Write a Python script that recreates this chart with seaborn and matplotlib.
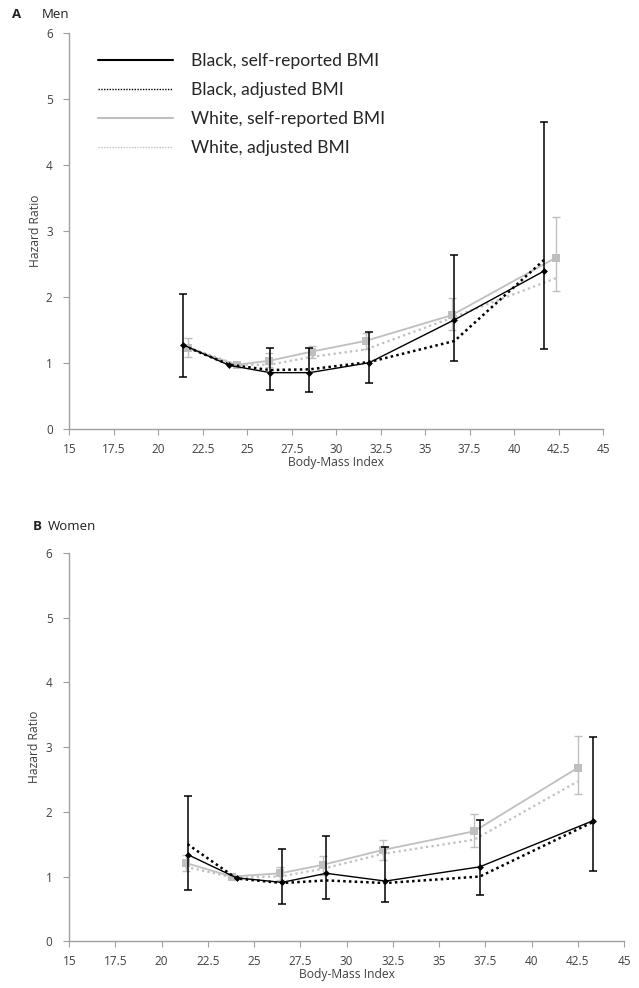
import numpy as np
import pandas as pd
import matplotlib
matplotlib.use("Agg")
import matplotlib.pyplot as plt
from matplotlib.lines import Line2D
import seaborn as sns

sns.set_theme(style="white")
plt.rcParams['font.family'] = ['Open Sans', 'DejaVu Sans']

# ---------------- data: Men ----------------
men_black_x = [21.4, 24.0, 26.3, 28.5, 31.85, 36.65, 41.7]
men_black_sr = [1.28, 0.97, 0.86, 0.86, 1.01, 1.66, 2.40]
men_black_lo = [0.80, None, 0.59, 0.57, 0.70, 1.04, 1.22]
men_black_hi = [2.05, None, 1.24, 1.24, 1.47, 2.64, 4.66]
men_black_adj = [1.27, 0.98, 0.90, 0.91, 1.02, 1.34, 2.57]

men_white_x = [21.65, 24.4, 26.25, 28.65, 31.65, 36.5, 42.35]
men_white_sr = [1.23, 0.98, 1.04, 1.18, 1.34, 1.73, 2.60]
men_white_lo = [1.10, None, 0.95, 1.08, 1.22, 1.51, 2.10]
men_white_hi = [1.38, None, 1.15, 1.27, 1.46, 1.99, 3.21]
men_white_adj = [1.25, 0.98, 0.98, 1.10, 1.21, 1.69, 2.29]

# ---------------- data: Women ----------------
wom_black_x = [21.4, 24.05, 26.5, 28.9, 32.1, 37.2, 43.3]
wom_black_sr = [1.34, 0.98, 0.91, 1.05, 0.93, 1.15, 1.86]
wom_black_lo = [0.79, None, 0.57, 0.66, 0.60, 0.72, 1.09]
wom_black_hi = [2.25, None, 1.43, 1.63, 1.45, 1.87, 3.16]
wom_black_adj = [1.50, 0.97, 0.90, 0.94, 0.90, 1.00, 1.84]

wom_white_x = [21.3, 23.8, 26.4, 28.7, 31.95, 36.9, 42.5]
wom_white_sr = [1.21, 1.00, 1.05, 1.18, 1.41, 1.70, 2.68]
wom_white_lo = [1.08, None, 0.95, 1.03, 1.26, 1.46, 2.28]
wom_white_hi = [1.33, None, 1.15, 1.32, 1.57, 1.97, 3.17]
wom_white_adj = [1.15, 0.99, 1.00, 1.12, 1.35, 1.57, 2.47]

x_ticks = [15, 17.5, 20, 22.5, 25, 27.5, 30, 32.5, 35, 37.5, 40, 42.5, 45]
x_ticklabels = ["15", "17.5", "20", "22.5", "25", "27.5", "30", "32.5", "35", "37.5", "40", "42.5", "45"]
y_ticks = [0, 1, 2, 3, 4, 5, 6]

legend_labels = ["Black, self-reported BMI", "Black, adjusted BMI",
                 "White, self-reported BMI", "White, adjusted BMI"]

BLACK = "#000000"
GREY = "#bfbfbf"
SPINE = "#a0a0a0"
TXT = "#404040"

fig = plt.figure(figsize=(6.39, 9.88), dpi=100)
ax1 = fig.add_axes([0.1085, 0.5653, 0.9437 - 0.1085, 0.9666 - 0.5653])
ax2 = fig.add_axes([0.1083, 0.0473, 0.9765 - 0.1083, 0.4403 - 0.0473])


def errbars(ax, x, y, lo, hi, color, lw):
    xs, ys, el, eh = [], [], [], []
    for xi, yi, l, h in zip(x, y, lo, hi):
        if l is None:
            continue
        xs.append(xi); ys.append(yi); el.append(yi - l); eh.append(h - yi)
    ax.errorbar(xs, ys, yerr=[el, eh], fmt='none', ecolor=color,
                elinewidth=lw, capsize=3, capthick=lw, zorder=4)


def panel(ax, bx, bsr, blo, bhi, badj, wx, wsr, wlo, whi, wadj):
    df = pd.DataFrame({"x": wx, "sr": wsr, "adj": wadj})
    sns.lineplot(data=df, x="x", y="adj", ax=ax, color=GREY, lw=1.6,
                 linestyle=(0, (1, 1.5)), sort=False, zorder=2)
    sns.lineplot(data=df, x="x", y="sr", ax=ax, color=GREY, lw=1.3,
                 marker="s", markersize=5.5, markeredgewidth=0, sort=False, zorder=3)
    errbars(ax, wx, wsr, wlo, whi, GREY, 1.0)
    dfb = pd.DataFrame({"x": bx, "sr": bsr, "adj": badj})
    sns.lineplot(data=dfb, x="x", y="adj", ax=ax, color=BLACK, lw=1.8,
                 linestyle=(0, (1, 1.3)), sort=False, zorder=3)
    sns.lineplot(data=dfb, x="x", y="sr", ax=ax, color=BLACK, lw=1.0,
                 marker="D", markersize=3.5, markeredgewidth=0, sort=False, zorder=5)
    errbars(ax, bx, bsr, blo, bhi, BLACK, 1.1)

    ax.set_xlim(15, 45)
    ax.set_ylim(0, 6)
    ax.set_xticks(x_ticks)
    ax.set_xticklabels(x_ticklabels)
    ax.set_yticks(y_ticks)
    for s in ["top", "right"]:
        ax.spines[s].set_visible(False)
    for s in ["left", "bottom"]:
        ax.spines[s].set_color(SPINE)
        ax.spines[s].set_linewidth(1.0)
    ax.tick_params(axis="both", direction="out", length=4, width=0.8,
                   color=SPINE, labelsize=8.5, labelcolor=TXT,
                   left=True, bottom=True)
    ax.tick_params(axis="x", pad=6)
    ax.tick_params(axis="y", pad=8)
    ax.set_xlabel("Body-Mass Index", fontsize=8.7, color=TXT, labelpad=0)
    ax.set_ylabel("Hazard Ratio", fontsize=8.7, color=TXT, labelpad=3)
    ax.grid(False)


panel(ax1, men_black_x, men_black_sr, men_black_lo, men_black_hi, men_black_adj,
      men_white_x, men_white_sr, men_white_lo, men_white_hi, men_white_adj)
panel(ax2, wom_black_x, wom_black_sr, wom_black_lo, wom_black_hi, wom_black_adj,
      wom_white_x, wom_white_sr, wom_white_lo, wom_white_hi, wom_white_adj)

handles = [
    Line2D([], [], color=BLACK, lw=1.5),
    Line2D([], [], color=BLACK, lw=1.0, linestyle=(0, (1, 1))),
    Line2D([], [], color=GREY, lw=1.5),
    Line2D([], [], color=GREY, lw=1.0, linestyle=(0, (1, 1))),
]
fig.legend(handles, legend_labels, loc="upper left",
           bbox_to_anchor=(98 / 639, 1 - 53 / 988), frameon=False,
           handlelength=4.3, handletextpad=1.0,
           labelspacing=0.75, borderpad=0, borderaxespad=0,
           prop={"family": ["Lato", "DejaVu Sans"], "size": 12.6})

fig.text(12 / 639, 1 - 15 / 988, "A", fontsize=9.5, fontweight="bold", color="#202020", va="center")
fig.text(42 / 639, 1 - 15 / 988, "Men", fontsize=9.5, color="#202020", va="center")
fig.text(33 / 639, 1 - 527 / 988, "B", fontsize=9.5, fontweight="bold", color="#202020", va="center")
fig.text(48 / 639, 1 - 527 / 988, "Women", fontsize=9.5, color="#202020", va="center")

fig.savefig("out.png", dpi=100)
